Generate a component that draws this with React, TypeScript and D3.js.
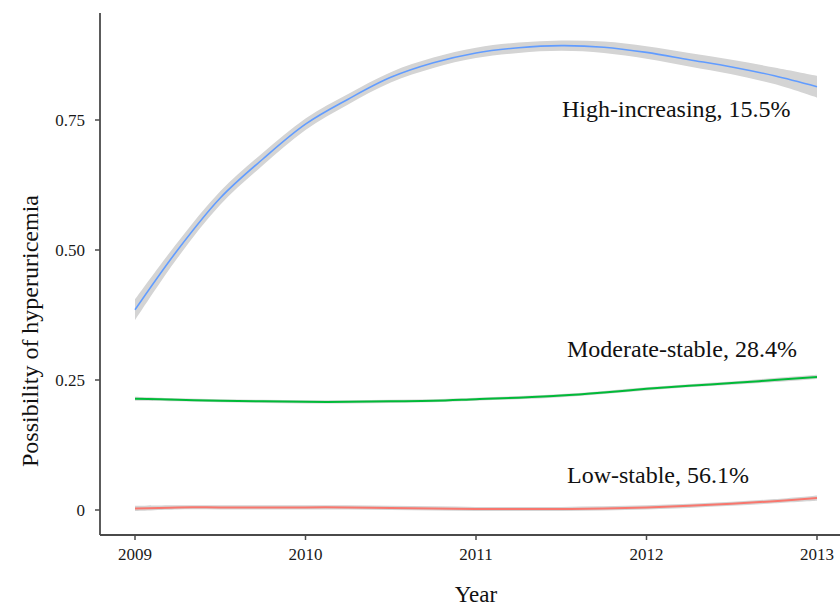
import React from "react";
import * as d3 from "d3";

const years = [2009, 2009.25, 2009.5, 2009.75, 2010, 2010.25, 2010.5, 2010.75, 2011, 2011.25, 2011.5, 2011.75, 2012, 2012.25, 2012.5, 2012.75, 2013];

const highValues = [0.385, 0.5, 0.6, 0.675, 0.742, 0.79, 0.832, 0.86, 0.879, 0.889, 0.893, 0.89, 0.88, 0.866, 0.852, 0.835, 0.814];
const highCI = [0.02, 0.015, 0.013, 0.012, 0.011, 0.01, 0.01, 0.01, 0.01, 0.01, 0.01, 0.011, 0.012, 0.013, 0.014, 0.016, 0.021];

const modValues = [0.214, 0.212, 0.21, 0.209, 0.208, 0.208, 0.209, 0.21, 0.213, 0.216, 0.22, 0.226, 0.233, 0.239, 0.244, 0.25, 0.256];
const modCI = [0.004, 0.003, 0.003, 0.003, 0.003, 0.003, 0.003, 0.003, 0.003, 0.003, 0.003, 0.003, 0.003, 0.003, 0.003, 0.004, 0.004];

const lowValues = [0.003, 0.005, 0.005, 0.005, 0.005, 0.005, 0.004, 0.003, 0.002, 0.002, 0.002, 0.003, 0.005, 0.008, 0.012, 0.017, 0.023];
const lowCI = [0.005, 0.004, 0.004, 0.004, 0.004, 0.004, 0.004, 0.004, 0.004, 0.004, 0.004, 0.004, 0.004, 0.004, 0.004, 0.004, 0.005];

const seriesNames = ["High-increasing, 15.5%", "Moderate-stable, 28.4%", "Low-stable, 56.1%"];
const seriesColors = ["#619CFF", "#00BA38", "#F8766D"];

const xTicks = [2009, 2010, 2011, 2012, 2013];
const yTicks = [0, 0.25, 0.5, 0.75];
const yTickLabels = ["0", "0.25", "0.50", "0.75"];

const W = 840;
const H = 609;
const FONT = "'Liberation Serif', 'Times New Roman', serif";

export default function App() {
  const x = d3.scaleLinear().domain([2009, 2013]).range([135, 817]);
  const y = d3.scaleLinear().domain([0, 0.75]).range([510, 120]);

  const all = [
    { vals: highValues, ci: highCI },
    { vals: modValues, ci: modCI },
    { vals: lowValues, ci: lowCI },
  ];

  const line = d3
    .line<number>()
    .x((_, i) => x(years[i]))
    .y((d) => y(d))
    .curve(d3.curveCatmullRom);

  const area = (vals: number[], ci: number[]) =>
    d3
      .area<number>()
      .x((_, i) => x(years[i]))
      .y0((d, i) => y(d - ci[i]))
      .y1((d, i) => y(d + ci[i]))
      .curve(d3.curveCatmullRom)(vals) || "";

  const labelPos = [
    { x: 562, y: 117 },
    { x: 567, y: 357 },
    { x: 567, y: 483 },
  ];

  const axisColor = "#4a4a4a";
  const axisLeft = 100;
  const axisBottom = 535;

  return (
    <svg
      width={W}
      height={H}
      style={{ position: "absolute", left: 0, top: 0, background: "#fff" }}
      fontFamily={FONT}
    >
      <rect x={0} y={0} width={W} height={H} fill="#fff" />
      {all.map((s, k) => (
        <path key={"a" + k} d={area(s.vals, s.ci)} fill="#d4d4d4" />
      ))}
      {all.map((s, k) => (
        <path
          key={"l" + k}
          d={line(s.vals) || ""}
          fill="none"
          stroke={seriesColors[k]}
          strokeWidth={k === 0 ? 1.6 : 2}
        />
      ))}
      <line x1={axisLeft} x2={axisLeft} y1={13} y2={axisBottom} stroke={axisColor} strokeWidth={1.8} />
      <line x1={axisLeft} x2={W} y1={axisBottom} y2={axisBottom} stroke={axisColor} strokeWidth={1.8} />
      {yTicks.map((t, i) => (
        <g key={"yt" + i}>
          <line x1={axisLeft - 5} x2={axisLeft} y1={y(t)} y2={y(t)} stroke={axisColor} strokeWidth={1.5} />
          <text x={85} y={y(t)} dy="0.35em" textAnchor="end" fontSize={17} fill="#1a1a1a">
            {yTickLabels[i]}
          </text>
        </g>
      ))}
      {xTicks.map((t) => (
        <g key={"xt" + t}>
          <line x1={x(t)} x2={x(t)} y1={axisBottom} y2={axisBottom + 5} stroke={axisColor} strokeWidth={1.5} />
          <text x={x(t)} y={560} textAnchor="middle" fontSize={17} fill="#1a1a1a">
            {t}
          </text>
        </g>
      ))}
      <text x={476} y={602} textAnchor="middle" fontSize={23} fill="#111">
        Year
      </text>
      <text
        transform={`translate(38, 331) rotate(-90)`}
        textAnchor="middle"
        fontSize={24}
        fill="#111"
      >
        Possibility of hyperuricemia
      </text>
      {seriesNames.map((n, k) => (
        <text key={"n" + k} x={labelPos[k].x} y={labelPos[k].y} fontSize={24} fill="#111">
          {n}
        </text>
      ))}
    </svg>
  );
}
